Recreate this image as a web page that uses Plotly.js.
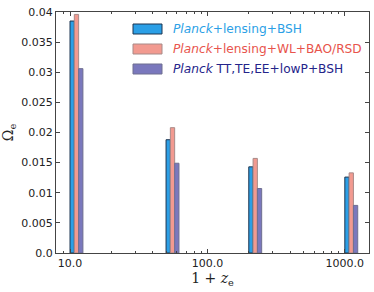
<!DOCTYPE html>
<html><head><meta charset="utf-8">
<script src="https://cdn.plot.ly/plotly-3.0.1.min.js"></script>
<style>html,body{margin:0;padding:0;background:#fff}#c{width:374px;height:292px}</style>
</head><body><div id="c"></div>
<script>
// 1 + z_e positions of the bar groups
const onePlusZ = [10, 50, 200, 1000];
const seriesNames = [
  '<i>Planck</i>+lensing+BSH',
  '<i>Planck</i>+lensing+WL+BAO/RSD',
  '<i>Planck</i> TT,TE,EE+lowP+BSH'
];
const lensingBSH = [0.0385, 0.0188, 0.0143, 0.0126];
const lensingWL = [0.0396, 0.0208, 0.0157, 0.0133];
const ttteee = [0.0306, 0.0149, 0.0107, 0.0079];
const xTickVals = [10, 100, 1000];
const xTickText = ['10.0', '100.0', '1000.0'];
const yTickVals = [0, 0.005, 0.01, 0.015, 0.02, 0.025, 0.03, 0.035, 0.04];
const yTickText = ['0.0', '0.005', '0.01', '0.015', '0.02', '0.025', '0.03', '0.035', '0.04'];

const fills = ['#2b9fe6', '#f29a90', '#7a78bd'];
const edges = ['#1d3550', '#a88a88', '#6f6f90'];
const textCols = ['#2b9fe6', '#e8544c', '#24248a'];
const series = [lensingBSH, lensingWL, ttteee];

const lx = onePlusZ.map(v => Math.log10(v));
const bw = 0.0313;
const traces = series.map((s, i) => ({
  type: 'bar', x: lx, y: s, width: bw, offset: i * bw,
  marker: {color: fills[i], line: {color: edges[i], width: 1}},
  showlegend: false, hoverinfo: 'skip'
}));

// minor tick positions in log space (axis decoration)
const minor = [];
for (let d = 0; d < 4; d++) for (let m = 2; m <= 9; m++) minor.push(Math.log10(m * Math.pow(10, d)));

const shapes = [], annotations = [];
const rowY = [29, 49, 69];
seriesNames.forEach((n, i) => {
  shapes.push({type: 'rect', xref: 'paper', yref: 'paper',
    x0: (133 - 56) / 313, x1: (162 - 56) / 313,
    y0: (253 - rowY[i] - 5) / 241, y1: (253 - rowY[i] + 5) / 241,
    fillcolor: fills[i], line: {color: edges[i], width: 1}});
  annotations.push({xref: 'paper', yref: 'paper', x: (171 - 56) / 313, y: (253 - rowY[i]) / 241,
    xanchor: 'left', yanchor: 'middle', showarrow: false, text: n,
    font: {family: 'DejaVu Sans', size: 12.2, color: textCols[i]}});
});

const axisCommon = {showline: true, linecolor: '#444', linewidth: 1, mirror: 'ticks',
  ticks: 'inside', tickcolor: '#444', showgrid: false, zeroline: false};

const layout = {
  width: 374, height: 292,
  margin: {l: 56, r: 5, t: 12, b: 39},
  paper_bgcolor: '#fff', plot_bgcolor: '#fff',
  barmode: 'overlay', bargap: 0,
  font: {family: 'DejaVu Sans', size: 11, color: '#222'},
  xaxis: Object.assign({}, axisCommon, {
    type: 'linear', range: [0.898, 3.176],
    tickmode: 'array', tickvals: xTickVals.map(v => Math.log10(v)), ticktext: xTickText,
    ticklen: 4, tickfont: {size: 11},
    minor: {tickmode: 'array', tickvals: minor, ticks: 'inside', ticklen: 2, tickcolor: '#444', showgrid: false},
    title: {text: '1 + <i>z</i><sub>e</sub>', font: {family: 'DejaVu Serif', size: 14}, standoff: 2}
  }),
  yaxis: Object.assign({}, axisCommon, {
    range: [0, 0.04], tickmode: 'array', tickvals: yTickVals, ticktext: yTickText,
    ticklen: 4, tickfont: {size: 11},
    title: {text: 'Ω<sub>e</sub>', font: {family: 'DejaVu Serif', size: 14}, standoff: 7}
  }),
  shapes: shapes, annotations: annotations
};
Plotly.newPlot('c', traces, layout, {staticPlot: true, displayModeBar: false});
</script></body></html>
